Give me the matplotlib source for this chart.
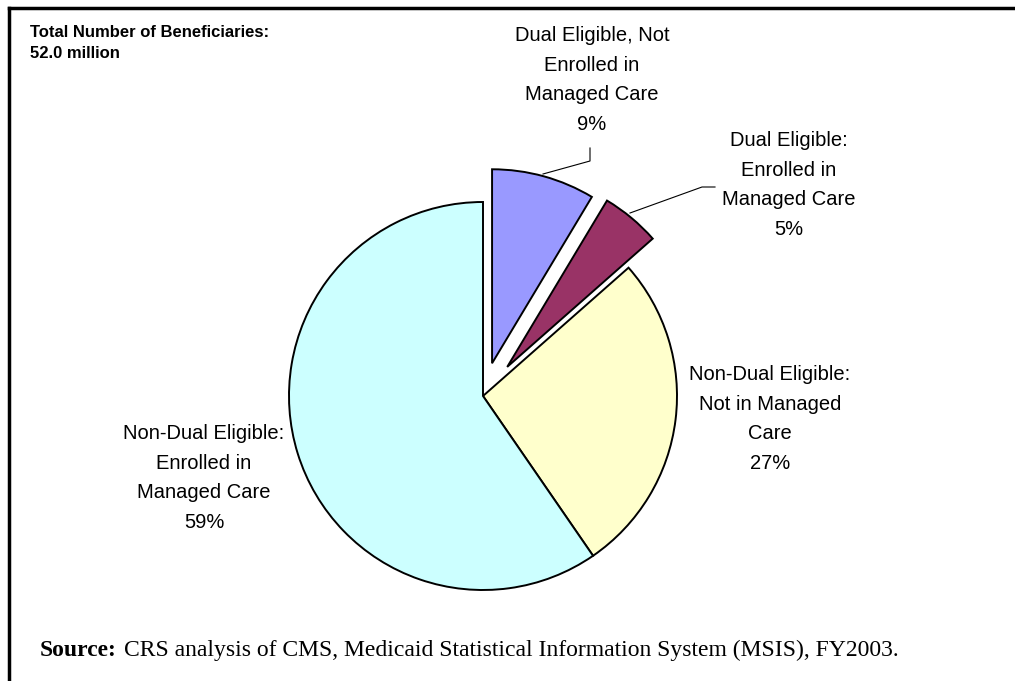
import matplotlib.pyplot as plt

# data
shares = [8.6, 4.9, 26.9, 59.6]
pct_labels = ["9%", "5%", "27%", "59%"]
names = ["Dual Eligible, Not\nEnrolled in\nManaged Care",
         "Dual Eligible:\nEnrolled in\nManaged Care",
         "Non-Dual Eligible:\nNot in Managed\nCare",
         "Non-Dual Eligible:\nEnrolled in\nManaged Care"]
colors = ["#9999FF", "#993366", "#FFFFCC", "#CCFFFF"]

W, H = 1015, 681
R = 194
explode = [0.175 * R, 0.195 * R, 0, 0]   # pie() offsets in data units

fig = plt.figure(figsize=(W / 100, H / 100), dpi=100)
ax = fig.add_axes([0, 0, 1, 1])

ax.pie(shares, colors=colors, explode=explode, startangle=90, counterclock=False,
       center=(483, H - 396), radius=R, frame=True,
       wedgeprops=dict(edgecolor="black", linewidth=1.4))
ax.set_xlim(0, W)
ax.set_ylim(0, H)
ax.set_aspect("equal")
ax.axis("off")

# label positions (pixel coords, y from top)
lab_pos = [(592, 80), (789, 185), (770, 419), (204, 478)]
for name, pct, (x, y) in zip(names, pct_labels, lab_pos):
    ax.text(x, H - y, name + "\n" + pct, ha="center", va="center",
            fontsize=14.5, family="Liberation Sans", linespacing=1.72)

# leader lines
ax.plot([543, 590, 590], [H - 174, H - 161, H - 148], color="black", lw=0.8)
ax.plot([630, 702, 715], [H - 213, H - 187, H - 187], color="black", lw=0.8)

# header
ax.text(30, H - 43, "Total Number of Beneficiaries:\n52.0 million", ha="left", va="center",
        fontsize=12, fontweight="bold", family="Liberation Sans", linespacing=1.5)

# source line
ax.text(40, H - 650, "Source:", ha="left", va="center", fontsize=17,
        fontweight="bold", family="Liberation Serif")
ax.text(124, H - 650, "CRS analysis of CMS, Medicaid Statistical Information System (MSIS), FY2003.",
        ha="left", va="center", fontsize=17, family="Liberation Serif")

# frame lines (top and left)
ax.plot([9, 9], [0, H - 8], color="black", lw=2.5, solid_capstyle="projecting")
ax.plot([9, W], [H - 8, H - 8], color="black", lw=2.5, solid_capstyle="projecting")

fig.savefig("out.png", dpi=100)
